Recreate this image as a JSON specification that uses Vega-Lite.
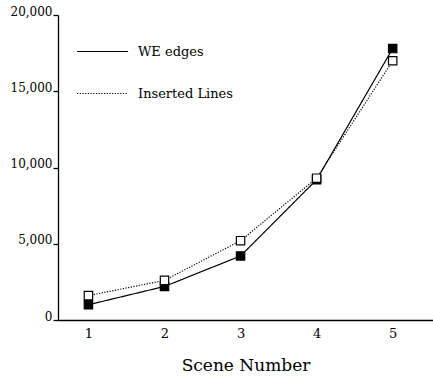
{
  "$schema": "https://vega.github.io/schema/vega-lite/v6.json",
  "width": 375,
  "height": 305,
  "autosize": "none",
  "padding": {"left": 58, "top": 15, "right": 0, "bottom": 58},
  "background": "white",
  "config": {
    "view": {"stroke": null},
    "font": "DejaVu Serif",
    "axis": {"labelFont": "DejaVu Serif", "titleFont": "DejaVu Serif", "labelColor": "black", "titleColor": "black", "domainColor": "black", "tickColor": "black", "grid": false, "domainWidth": 1.3, "tickWidth": 1.3},
    "legend": {"labelFont": "DejaVu Serif", "labelColor": "black"}
  },
  "data": {
    "values": [
      {"scene": 1, "value": 1000, "series": "WE edges"},
      {"scene": 2, "value": 2200, "series": "WE edges"},
      {"scene": 3, "value": 4200, "series": "WE edges"},
      {"scene": 4, "value": 9200, "series": "WE edges"},
      {"scene": 5, "value": 17800, "series": "WE edges"},
      {"scene": 1, "value": 1600, "series": "Inserted Lines"},
      {"scene": 2, "value": 2600, "series": "Inserted Lines"},
      {"scene": 3, "value": 5200, "series": "Inserted Lines"},
      {"scene": 4, "value": 9300, "series": "Inserted Lines"},
      {"scene": 5, "value": 17000, "series": "Inserted Lines"}
    ]
  },
  "encoding": {
    "x": {"field": "scene", "type": "quantitative", "scale": {"domain": [0.6, 5.53], "nice": false, "zero": false},
      "axis": {"values": [1, 2, 3, 4, 5], "format": "d", "ticks": false, "labelFontSize": 13, "labelPadding": 7, "title": "Scene Number", "titleFontSize": 17, "titleFontWeight": "normal", "titlePadding": 17}},
    "y": {"field": "value", "type": "quantitative", "scale": {"domain": [0, 20000], "nice": false},
      "axis": {"values": [0, 5000, 10000, 15000, 20000], "format": ",.0f", "title": null, "tickSize": 5, "labelFontSize": 12, "labelBaseline": "alphabetic", "labelPadding": 1}}
  },
  "layer": [
    {
      "mark": {"type": "line", "color": "black", "strokeWidth": 1.2},
      "encoding": {
        "strokeDash": {"field": "series", "type": "nominal", "scale": {"domain": ["WE edges", "Inserted Lines"], "range": [[1, 0], [1.2, 1.5]]},
          "legend": {"title": null, "orient": "none", "legendX": 18, "legendY": 10, "symbolType": "stroke", "symbolSize": 2600, "symbolStrokeWidth": 1.2, "symbolStrokeColor": "black", "labelFontSize": 13, "labelOffset": 9, "rowPadding": 8}}
      }
    },
    {
      "mark": {"type": "point", "shape": "square", "size": 70, "strokeWidth": 1.2, "stroke": "black", "opacity": 1},
      "encoding": {
        "fill": {"field": "series", "type": "nominal", "scale": {"domain": ["WE edges", "Inserted Lines"], "range": ["black", "white"]}, "legend": null}
      }
    }
  ]
}
